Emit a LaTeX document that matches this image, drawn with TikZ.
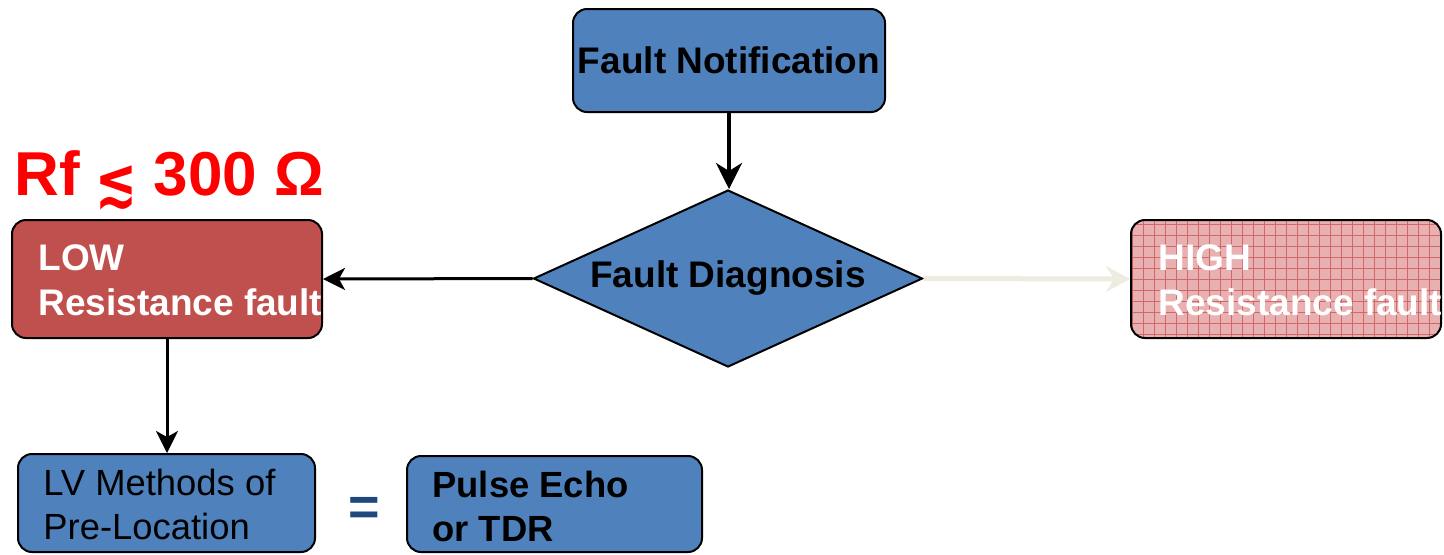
\documentclass[tikz,border=0pt]{standalone}
\usepackage{fontspec}
\setmainfont{Liberation Sans}
\newfontfamily\symfont{DejaVu Sans}
\usetikzlibrary{arrows.meta,shapes.geometric}
\definecolor{boxblue}{RGB}{79,129,189}
\definecolor{boxred}{RGB}{192,80,77}
\definecolor{gridpink}{RGB}{232,176,176}
\definecolor{gridline}{RGB}{208,104,104}
\definecolor{paleline}{RGB}{238,236,225}
\definecolor{eqblue}{RGB}{31,73,125}
\begin{document}
\begin{tikzpicture}[x=0.5pt,y=-0.5pt,
  box/.style={draw=black,line width=1pt,rounded corners=7pt,inner sep=0pt},
  bigtxt/.style={inner sep=0pt,font=\bfseries\fontsize{18.5}{22.5}\selectfont},
  smalltxt/.style={inner sep=0pt,align=left,anchor=north west,font=\fontsize{18.2}{22}\selectfont},
  flow/.style={line width=2pt,-{Stealth[length=13pt,width=13pt,inset=4pt]}},
  thinflow/.style={line width=1.5pt,-{Stealth[length=11pt,width=11pt,inset=3pt]}}]
\useasboundingbox (0,0) rectangle (1444,554);

% top box and decision diamond
\node[box,fill=boxblue,minimum width=156pt,minimum height=51.5pt,bigtxt] (notif) at (729,60.5) {Fault Notification};
\node[diamond,draw=black,line width=1pt,fill=boxblue,aspect=2.2,inner sep=0pt,
      minimum width=194.5pt,minimum height=88.5pt,font=\bfseries\fontsize{18.5}{22.5}\selectfont] (diag) at (728,278.5) {Fault Diagnosis};

% low resistance branch
\node[box,fill=boxred,minimum width=155pt,minimum height=59pt] (low) at (167,279) {};
\node[bigtxt,align=left,anchor=north west,text=white] (lowtxt) at (38,244) {LOW\\Resistance fault};

% high resistance branch (gridded fill)
\node[box,fill=gridpink,minimum width=155pt,minimum height=59pt,
      path picture={\draw[gridline,line width=0.45pt]
        (path picture bounding box.south west) grid[step=5.5pt] (path picture bounding box.north east);}] (high) at (1286,279) {};
\node[bigtxt,align=left,anchor=north west,text=white] (hightxt) at (1158,244) {HIGH\\Resistance fault};

% resistance threshold label
\node[anchor=base west,inner sep=0pt,text=red,font=\bfseries\fontsize{31}{31}\selectfont] (rf) at (14,195)
  {Rf\hspace{8pt}\raisebox{-4.5pt}{\scalebox{1}[1.33]{\symfont\bfseries\fontsize{25}{25}\selectfont ≲}}\hspace{8pt}300 Ω};

% pre-location boxes
\node[box,fill=boxblue,minimum width=148.5pt,minimum height=49pt] (lv) at (166.5,503) {};
\node[smalltxt] (lvtxt) at (43,469) {LV Methods of\\Pre-Location};
\node[text=eqblue,inner sep=0pt,font=\bfseries\fontsize{27}{27}\selectfont] (eq) at (364,511) {=};
\node[box,fill=boxblue,minimum width=147.5pt,minimum height=48pt] (pulse) at (554.5,504) {};
\node[smalltxt,font=\bfseries\fontsize{18.2}{22}\selectfont] (pulsetxt) at (432,471) {Pulse Echo\\or TDR};

% connectors
\draw[flow] (notif.south) -- (notif.south |- diag.north);
\draw[thinflow] (diag.west) -- (low.east);
\draw[thinflow] (low.south) -- (low.south |- lv.north);
\draw[paleline,line width=2.5pt,-{Stealth[length=12pt,width=13pt,inset=4pt]}] (diag.east) -- (high.west);
\end{tikzpicture}
\end{document}
